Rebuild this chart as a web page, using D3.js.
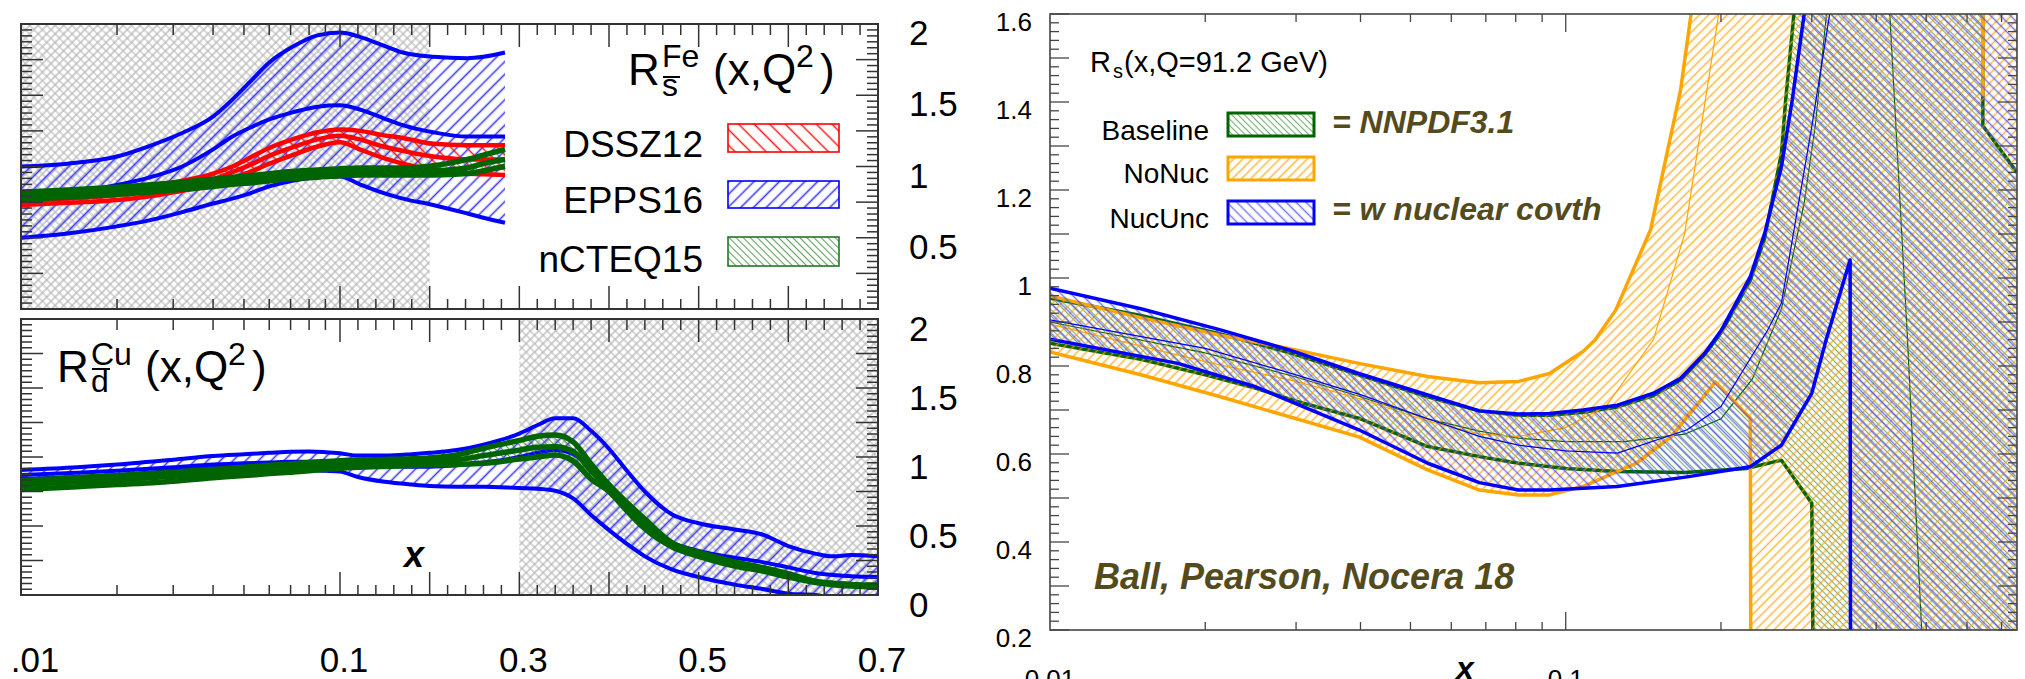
<!DOCTYPE html>
<html>
<head>
<meta charset="utf-8">
<script src="https://cdn.jsdelivr.net/npm/d3@7"></script>
<style>
body { margin: 0; background: #fff; }
svg { display: block; }
text { font-family: "Liberation Sans", Arial, Helvetica, sans-serif; }
</style>
</head>
<body>
<svg id="chart" width="2025" height="679"></svg>
<script>
// LEFT PANEL DATA: R^Fe_sbar (top)
var feX        = [0.01, 0.014, 0.02, 0.025, 0.032, 0.04, 0.046, 0.052, 0.06, 0.071, 0.085, 0.1, 0.122, 0.148, 0.17, 0.204, 0.242, 0.26, 0.284];
var feEppsHi   = [1.00, 1.02, 1.07, 1.14, 1.235, 1.35, 1.47, 1.59, 1.73, 1.84, 1.92, 1.94, 1.91, 1.85, 1.80, 1.77, 1.76, 1.77, 1.80];
var feEppsMid  = [0.77, 0.81, 0.87, 0.92, 1.00, 1.12, 1.21, 1.27, 1.33, 1.38, 1.42, 1.43, 1.40, 1.34, 1.29, 1.24, 1.21, 1.21, 1.21];
var feEppsLo   = [0.50, 0.53, 0.58, 0.62, 0.68, 0.74, 0.775, 0.81, 0.86, 0.90, 0.925, 0.93, 0.875, 0.815, 0.775, 0.73, 0.67, 0.64, 0.605];
var feDsszHi   = [0.80, 0.81, 0.83, 0.86, 0.90, 0.95, 1.0, 1.06, 1.13, 1.19, 1.24, 1.26, 1.25, 1.22, 1.20, 1.16, 1.15, 1.15, 1.15];
var feDsszMid  = [0.76, 0.775, 0.80, 0.825, 0.865, 0.91, 0.96, 1.01, 1.075, 1.135, 1.19, 1.215, 1.19, 1.14, 1.11, 1.07, 1.05, 1.05, 1.05];
var feDsszLo   = [0.73, 0.745, 0.765, 0.79, 0.83, 0.87, 0.92, 0.96, 1.02, 1.08, 1.14, 1.17, 1.12, 1.06, 1.02, 0.975, 0.95, 0.945, 0.94];
var feNcteqHi  = [0.82, 0.835, 0.855, 0.87, 0.89, 0.91, 0.925, 0.935, 0.95, 0.965, 0.975, 0.985, 0.99, 0.99, 0.99, 1.005, 1.05, 1.08, 1.12];
var feNcteqMid = [0.795, 0.81, 0.83, 0.845, 0.865, 0.885, 0.90, 0.91, 0.925, 0.94, 0.95, 0.96, 0.965, 0.965, 0.965, 0.97, 0.99, 1.02, 1.05];
var feNcteqLo  = [0.77, 0.785, 0.805, 0.82, 0.84, 0.86, 0.875, 0.885, 0.90, 0.915, 0.925, 0.935, 0.94, 0.94, 0.94, 0.94, 0.95, 0.97, 1.0];

// LEFT PANEL DATA: R^Cu_dbar (bottom)
var cuX        = [0.01, 0.015, 0.02, 0.03, 0.04, 0.05, 0.06, 0.07, 0.08, 0.09, 0.1, 0.12, 0.15, 0.18, 0.2, 0.23, 0.26, 0.3, 0.32, 0.34, 0.36, 0.38, 0.40, 0.42, 0.44, 0.47, 0.5, 0.54, 0.57, 0.6, 0.63, 0.65, 0.67, 0.7];
var cuEppsHi   = [0.906, 0.925, 0.945, 0.98, 1.007, 1.02, 1.03, 1.038, 1.04, 1.035, 1.027, 1.01, 1.01, 1.02, 1.03, 1.05, 1.09, 1.17, 1.23, 1.28, 1.28, 1.19, 1.06, 0.90, 0.75, 0.585, 0.52, 0.475, 0.44, 0.355, 0.30, 0.28, 0.29, 0.28];
var cuEppsMid  = [0.87, 0.885, 0.90, 0.925, 0.945, 0.955, 0.96, 0.965, 0.965, 0.965, 0.96, 0.945, 0.935, 0.93, 0.93, 0.94, 0.96, 1.0, 1.03, 1.05, 1.02, 0.92, 0.78, 0.63, 0.50, 0.38, 0.32, 0.27, 0.24, 0.20, 0.16, 0.145, 0.135, 0.13];
var cuEppsLo   = [0.84, 0.855, 0.87, 0.90, 0.92, 0.925, 0.925, 0.915, 0.905, 0.90, 0.894, 0.855, 0.82, 0.80, 0.79, 0.785, 0.785, 0.775, 0.77, 0.755, 0.70, 0.58, 0.47, 0.37, 0.28, 0.185, 0.13, 0.075, 0.045, 0.01, 0.0, -0.02, -0.04, -0.05];
var cuNcteqHi  = [0.83, 0.85, 0.865, 0.89, 0.91, 0.925, 0.94, 0.95, 0.96, 0.967, 0.973, 0.978, 0.982, 0.987, 0.993, 1.015, 1.063, 1.12, 1.15, 1.16, 1.11, 0.95, 0.80, 0.67, 0.55, 0.38, 0.31, 0.24, 0.20, 0.155, 0.10, 0.085, 0.077, 0.072];
var cuNcteqMid = [0.80, 0.82, 0.835, 0.86, 0.88, 0.895, 0.91, 0.92, 0.93, 0.94, 0.946, 0.952, 0.957, 0.962, 0.967, 0.98, 1.01, 1.05, 1.07, 1.075, 1.04, 0.90, 0.775, 0.64, 0.515, 0.365, 0.295, 0.225, 0.19, 0.14, 0.095, 0.08, 0.071, 0.065];
var cuNcteqLo  = [0.765, 0.785, 0.80, 0.825, 0.85, 0.865, 0.88, 0.89, 0.90, 0.91, 0.918, 0.925, 0.932, 0.938, 0.942, 0.946, 0.954, 0.985, 1.0, 1.014, 0.97, 0.84, 0.75, 0.61, 0.48, 0.35, 0.28, 0.21, 0.175, 0.13, 0.09, 0.075, 0.065, 0.058];

var feShade = [0.01, 0.2];
var cuShade = [0.3, 0.7];
var leftXTickVals = [0.01, 0.1, 0.3, 0.5, 0.7];
var leftXTickText = [".01", "0.1", "0.3", "0.5", "0.7"];
var feYLabels = [0.5, 1, 1.5, 2];
var cuYLabels = [0, 0.5, 1, 1.5, 2];

// RIGHT PANEL DATA: R_s(x, Q=91.2 GeV), [x, value]
var baseHi = [[0.01,0.954],[0.015,0.915],[0.0214,0.873],[0.0292,0.83],[0.0397,0.78],[0.054,0.73],[0.068,0.698],[0.081,0.688],[0.093,0.688],[0.108,0.695],[0.126,0.707],[0.148,0.733],[0.167,0.768],[0.186,0.826],[0.2,0.875],[0.228,0.995],[0.243,1.09],[0.262,1.284],[0.267,1.405],[0.277,1.6],[0.3,2.3],[0.643,2.3],[0.644,1.346],[0.75,1.24]];
var baseMid = [[0.01,0.90],[0.02,0.83],[0.03,0.775],[0.04,0.73],[0.054,0.68],[0.068,0.652],[0.081,0.636],[0.1,0.628],[0.13,0.628],[0.17,0.645],[0.2,0.68],[0.23,0.77],[0.262,0.93],[0.29,1.17],[0.305,1.35],[0.33,1.75],[0.37,2.4],[0.40,2.4],[0.425,1.6],[0.46,0.86],[0.49,0.2],[0.52,-0.4],[0.75,-0.4]];
var baseLo = [[0.01,0.852],[0.015,0.815],[0.02,0.78],[0.025,0.75],[0.03,0.72],[0.04,0.68],[0.054,0.617],[0.068,0.594],[0.081,0.579],[0.1,0.567],[0.126,0.56],[0.17,0.558],[0.224,0.567],[0.262,0.586],[0.3,0.488],[0.305,-0.5],[0.75,-0.5]];
var nonucHi = [[0.01,0.959],[0.015,0.91],[0.0214,0.87],[0.029,0.84],[0.0397,0.806],[0.054,0.776],[0.068,0.762],[0.081,0.765],[0.093,0.783],[0.108,0.833],[0.114,0.859],[0.125,0.927],[0.146,1.109],[0.167,1.427],[0.175,1.6],[0.2,2.5],[0.64,2.5],[0.644,1.416],[0.648,2.5],[0.75,2.5]];
var nonucMid = [[0.01,0.895],[0.02,0.81],[0.03,0.765],[0.04,0.725],[0.054,0.675],[0.068,0.645],[0.081,0.64],[0.1,0.66],[0.12,0.71],[0.148,0.86],[0.17,1.1],[0.198,1.6],[0.22,2.2],[0.75,2.2]];
var nonucLo = [[0.01,0.832],[0.015,0.78],[0.0214,0.73],[0.0397,0.639],[0.054,0.564],[0.068,0.518],[0.081,0.507],[0.093,0.507],[0.108,0.526],[0.137,0.579],[0.16,0.639],[0.183,0.723],[0.195,0.764],[0.228,0.681],[0.229,-0.5],[0.75,-0.5]];
var nucHi = [[0.01,0.977],[0.015,0.93],[0.0214,0.882],[0.0292,0.836],[0.0397,0.783],[0.054,0.734],[0.068,0.698],[0.081,0.691],[0.093,0.692],[0.108,0.70],[0.126,0.711],[0.148,0.738],[0.167,0.772],[0.186,0.829],[0.2,0.88],[0.228,1.003],[0.243,1.101],[0.262,1.253],[0.275,1.405],[0.29,1.6],[0.32,2.3],[0.75,2.3]];
var nucMid = [[0.01,0.905],[0.02,0.84],[0.03,0.78],[0.04,0.735],[0.054,0.68],[0.068,0.64],[0.081,0.62],[0.1,0.607],[0.126,0.602],[0.172,0.655],[0.2,0.708],[0.246,0.88],[0.262,0.943],[0.3,1.344],[0.325,1.6],[0.36,2.4],[0.75,2.4]];
var nucLo = [[0.01,0.861],[0.0177,0.806],[0.025,0.753],[0.0397,0.655],[0.054,0.579],[0.068,0.535],[0.081,0.518],[0.093,0.518],[0.126,0.526],[0.172,0.548],[0.228,0.571],[0.262,0.62],[0.3,0.738],[0.32,0.86],[0.356,1.041],[0.357,-0.5],[0.75,-0.5]];

var rightYLabels = [0.2, 0.4, 0.6, 0.8, 1, 1.2, 1.4, 1.6];
var rightXLabels = [0.01, 0.1];

var svg = d3.select("#chart");
var defs = svg.append("defs");
var olive = "#544b1c";

// HATCH PATTERNS
function hatch(id, color, gap, angle, w, op) {
    var p = defs.append("pattern").attr("id", id)
        .attr("patternUnits", "userSpaceOnUse")
        .attr("width", gap).attr("height", gap)
        .attr("patternTransform", "rotate(" + angle + ")");
    p.append("line")
        .attr("x1", gap / 2).attr("y1", -1).attr("x2", gap / 2).attr("y2", gap + 1)
        .attr("stroke", color).attr("stroke-width", w).attr("stroke-opacity", op);
}
hatch("hRed", "#ff0000", 11, -45, 1.5, 0.9);
hatch("hBlueL", "#1a1aff", 9, 45, 1.6, 0.85);
hatch("hGreenL", "#1e7a1e", 5, -45, 1.1, 0.7);
hatch("hGreenR", "#3c873c", 4.5, -45, 1.1, 0.7);
hatch("hOrange", "#ffa000", 6.5, 45, 1.5, 0.75);
hatch("hBlueR", "#4040ff", 7, -45, 1.5, 0.7);

var cross = defs.append("pattern").attr("id", "cross")
    .attr("patternUnits", "userSpaceOnUse")
    .attr("width", 6).attr("height", 6)
    .attr("patternTransform", "rotate(45)");
cross.append("rect").attr("width", 6).attr("height", 6).attr("fill", "#fff");
cross.append("path").attr("d", "M0,3H6M3,0V6")
    .attr("stroke", "#b2b2b2").attr("stroke-width", 1.2);

function txt(x, y, s, size, opt) {
    opt = opt || {};
    return svg.append("text").attr("x", x).attr("y", y).text(s)
        .attr("font-size", size)
        .attr("text-anchor", opt.anchor || "start")
        .attr("font-weight", opt.weight || "normal")
        .attr("font-style", opt.style || "normal")
        .attr("fill", opt.fill || "#000");
}

// LEFT PANEL SCALES (log up to 0.1, linear after)
var xLog = d3.scaleLog().domain([0.01, 0.1]).range([21, 340]);
var xLin = d3.scaleLinear().domain([0.1, 0.7]).range([340, 878]);
function xL(v) { return v <= 0.1 ? xLog(v) : xLin(v); }

function leftPlot(top, bottom, shade, bands, ylabels, labelDy) {
    var y = d3.scaleLinear().domain([0, 2]).range([bottom, top]);
    var clipId = "clipL" + top;
    defs.append("clipPath").attr("id", clipId).append("rect")
        .attr("x", 21).attr("y", top).attr("width", 857).attr("height", bottom - top);
    var inner = svg.append("g").attr("clip-path", "url(#" + clipId + ")");

    inner.append("rect")
        .attr("x", xL(shade[0])).attr("y", top)
        .attr("width", xL(shade[1]) - xL(shade[0])).attr("height", bottom - top)
        .attr("fill", "url(#cross)");

    bands.forEach(function(b) {
        var area = d3.area().curve(d3.curveMonotoneX)
            .x(function(d, i) { return xL(b.x[i]); })
            .y0(function(d, i) { return y(b.lo[i]); })
            .y1(function(d, i) { return y(b.hi[i]); });
        inner.append("path").datum(b.x).attr("d", area).attr("fill", "url(#" + b.pat + ")");
        var line = d3.line().curve(d3.curveMonotoneX)
            .x(function(d, i) { return xL(b.x[i]); })
            .y(function(d) { return y(d); });
        [b.lo, b.mid, b.hi].forEach(function(s) {
            inner.append("path").datum(s).attr("d", line)
                .attr("fill", "none").attr("stroke", b.color)
                .attr("stroke-width", b.lw).attr("stroke-linejoin", "round");
        });
    });

    // TICKS
    var ax = svg.append("g").attr("stroke", "#333").attr("stroke-width", 1.5);
    var xMinor = xLog.ticks().filter(function(v) { return v > 0.0101 && v < 0.099; })
        .concat(d3.range(0.12, 0.69, 0.02).filter(function(v) {
            return Math.abs(v * 10 - Math.round(v * 10)) > 1e-6; }));
    var xMajor = [0.1, 0.2, 0.3, 0.4, 0.5, 0.6];
    xMinor.forEach(function(v) {
        ax.append("line").attr("x1", xL(v)).attr("x2", xL(v)).attr("y1", bottom).attr("y2", bottom - 10);
        ax.append("line").attr("x1", xL(v)).attr("x2", xL(v)).attr("y1", top).attr("y2", top + 11);
    });
    xMajor.forEach(function(v) {
        ax.append("line").attr("x1", xL(v)).attr("x2", xL(v)).attr("y1", bottom).attr("y2", bottom - 23);
        ax.append("line").attr("x1", xL(v)).attr("x2", xL(v)).attr("y1", top).attr("y2", top + 23);
    });
    d3.range(0, 2.0001, 0.25 / 6).forEach(function(v, i) {
        var len = (i % 6 === 0) ? 22 : 11;
        ax.append("line").attr("x1", 21).attr("x2", 21 + len).attr("y1", y(v)).attr("y2", y(v));
        ax.append("line").attr("x1", 878).attr("x2", 878 - len).attr("y1", y(v)).attr("y2", y(v));
    });
    svg.append("rect").attr("x", 21).attr("y", top).attr("width", 857).attr("height", bottom - top)
        .attr("fill", "none").attr("stroke", "#333").attr("stroke-width", 2);

    ylabels.forEach(function(v) { txt(909, y(v) + labelDy, String(v), 35); });
    return y;
}

leftPlot(24, 309, feShade, [
    {x: feX, hi: feEppsHi, mid: feEppsMid, lo: feEppsLo, pat: "hBlueL", color: "#0000ff", lw: 4},
    {x: feX, hi: feDsszHi, mid: feDsszMid, lo: feDsszLo, pat: "hRed", color: "#ff0000", lw: 4.5},
    {x: feX, hi: feNcteqHi, mid: feNcteqMid, lo: feNcteqLo, pat: "hGreenL", color: "#006400", lw: 5.5}
], feYLabels, 21);

leftPlot(319, 595, cuShade, [
    {x: cuX, hi: cuEppsHi, mid: cuEppsMid, lo: cuEppsLo, pat: "hBlueL", color: "#0000ff", lw: 4},
    {x: cuX, hi: cuNcteqHi, mid: cuNcteqMid, lo: cuNcteqLo, pat: "hGreenL", color: "#006400", lw: 5.5}
], cuYLabels, 22);

// LEFT X LABELS
leftXTickVals.forEach(function(v, i) {
    var dx = (i === 0) ? 14 : 4;
    txt(xL(v) + dx, 672, leftXTickText[i], 35, {anchor: "middle"});
});
txt(414, 567, "x", 36, {anchor: "middle", weight: "bold", style: "italic"});

// LEFT TITLES
txt(628, 85, "R", 44);
txt(662, 67, "Fe", 32);
txt(662, 96, "s", 32);
svg.append("line").attr("x1", 663).attr("x2", 680).attr("y1", 77).attr("y2", 77).attr("stroke", "#000").attr("stroke-width", 2);
txt(713, 85, "(x,Q", 44);
txt(796, 67, "2", 32);
txt(820, 85, ")", 44);

txt(57, 382, "R", 44);
txt(91, 365, "Cu", 32);
txt(91, 392, "d", 32);
svg.append("line").attr("x1", 92).attr("x2", 110).attr("y1", 369).attr("y2", 369).attr("stroke", "#000").attr("stroke-width", 2);
txt(145, 382, "(x,Q", 44);
txt(228, 365, "2", 32);
txt(252, 382, ")", 44);

// LEFT LEGEND
var legL = [
    {name: "DSSZ12", pat: "hRed", color: "#ff0000", y: 124, h: 28, base: 157},
    {name: "EPPS16", pat: "hBlueL", color: "#0000ff", y: 181, h: 27, base: 213},
    {name: "nCTEQ15", pat: "hGreenL", color: "#1e7a1e", y: 237, h: 29, base: 272}
];
legL.forEach(function(l) {
    svg.append("rect").attr("x", 728).attr("y", l.y).attr("width", 111).attr("height", l.h)
        .attr("fill", "#fff");
    svg.append("rect").attr("x", 728).attr("y", l.y).attr("width", 111).attr("height", l.h)
        .attr("fill", "url(#" + l.pat + ")").attr("stroke", l.color).attr("stroke-width", 1.6);
    txt(703, l.base, l.name, 37, {anchor: "end"});
});

// RIGHT PANEL
var xR = d3.scaleLog().domain([0.01, 0.75]).range([1050, 2017]);
var yR = d3.scaleLinear().domain([0.2, 1.6]).range([630, 14]);
defs.append("clipPath").attr("id", "clipR").append("rect")
    .attr("x", 1050).attr("y", 14).attr("width", 967).attr("height", 616);
var rin = svg.append("g").attr("clip-path", "url(#clipR)");
var pline = d3.line().x(function(d) { return xR(d[0]); }).y(function(d) { return yR(d[1]); });

var bandsR = [
    {hi: baseHi, mid: baseMid, lo: baseLo, pat: "hGreenR", color: "#006400"},
    {hi: nonucHi, mid: nonucMid, lo: nonucLo, pat: "hOrange", color: "#ffa500"},
    {hi: nucHi, mid: nucMid, lo: nucLo, pat: "hBlueR", color: "#0000ff"}
];
bandsR.forEach(function(b) {
    rin.append("path").attr("d", pline(b.hi.concat(b.lo.slice().reverse())) + "Z")
        .attr("fill", "url(#" + b.pat + ")");
    rin.append("path").attr("d", pline(b.mid)).attr("fill", "none")
        .attr("stroke", b.color).attr("stroke-width", 1.2);
    [b.hi, b.lo].forEach(function(s) {
        rin.append("path").attr("d", pline(s)).attr("fill", "none")
            .attr("stroke", b.color).attr("stroke-width", 3.5).attr("stroke-linejoin", "round");
    });
});

// RIGHT TICKS
var axR = svg.append("g").attr("stroke", "#444").attr("stroke-width", 1.3);
xR.ticks().forEach(function(v) {
    if (v <= 0.0101 || v > 0.74) return;
    var len = Math.abs(v - 0.1) < 1e-9 ? 18 : 8;
    axR.append("line").attr("x1", xR(v)).attr("x2", xR(v)).attr("y1", 630).attr("y2", 630 - len);
    axR.append("line").attr("x1", xR(v)).attr("x2", xR(v)).attr("y1", 14).attr("y2", 14 + len);
});
d3.range(0, 71).forEach(function(i) {
    var v = 0.2 + i * 0.02;
    var len = (i % 5 === 0) ? 19 : 9;
    axR.append("line").attr("x1", 1050).attr("x2", 1050 + len).attr("y1", yR(v)).attr("y2", yR(v));
    axR.append("line").attr("x1", 2017).attr("x2", 2017 - len).attr("y1", yR(v)).attr("y2", yR(v));
});
svg.append("rect").attr("x", 1050).attr("y", 14).attr("width", 967).attr("height", 616)
    .attr("fill", "none").attr("stroke", "#444").attr("stroke-width", 1.6);

rightYLabels.forEach(function(v) { txt(1032, yR(v) + 17, String(v), 26, {anchor: "end"}); });
rightXLabels.forEach(function(v) { txt(xR(v), 688, String(v), 26, {anchor: "middle"}); });
txt(1465, 679, "x", 32, {anchor: "middle", weight: "bold", style: "italic"});

// RIGHT TITLE + LEGEND
txt(1090, 72, "R", 29);
txt(1113, 78, "s", 20);
txt(1124, 72, "(x,Q=91.2 GeV)", 29);

var legR = [
    {name: "Baseline", pat: "hGreenR", color: "#006400", y: 113, base: 140},
    {name: "NoNuc", pat: "hOrange", color: "#ffa500", y: 157, base: 183},
    {name: "NucUnc", pat: "hBlueR", color: "#0000ff", y: 201, base: 228}
];
legR.forEach(function(l) {
    svg.append("rect").attr("x", 1228).attr("y", l.y).attr("width", 86).attr("height", 23)
        .attr("fill", "url(#" + l.pat + ")").attr("stroke", l.color).attr("stroke-width", 3);
    txt(1209, l.base, l.name, 28, {anchor: "end"});
});
txt(1332, 133, "= NNPDF3.1", 32, {weight: "bold", style: "italic", fill: olive});
txt(1332, 220, "= w nuclear covth", 32, {weight: "bold", style: "italic", fill: olive});
txt(1094, 589, "Ball, Pearson, Nocera 18", 36, {weight: "bold", style: "italic", fill: olive});
</script>
</body>
</html>
